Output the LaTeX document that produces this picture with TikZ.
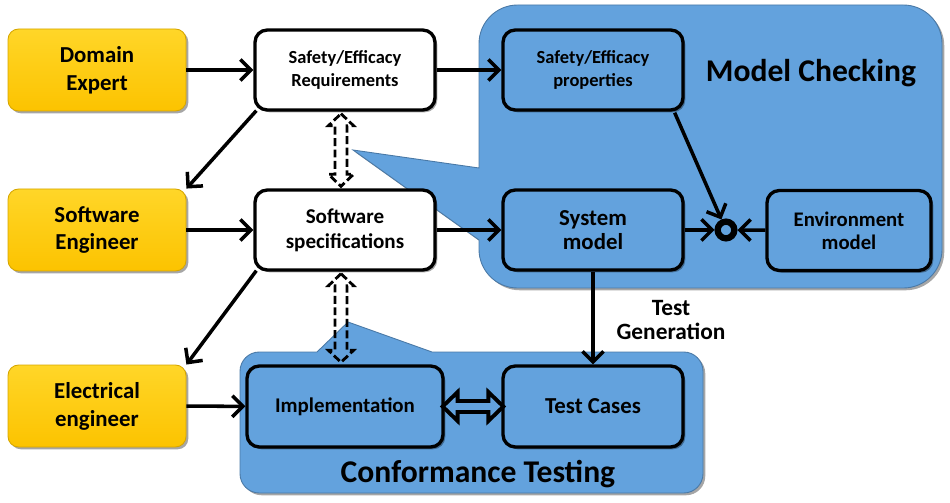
\documentclass[tikz,border=0pt]{standalone}
\usepackage{fontspec}
\setmainfont{Carlito}
\usetikzlibrary{arrows.meta,shadows,calc}
\definecolor{ytop}{RGB}{255,214,40}
\definecolor{ybot}{RGB}{252,195,0}
\definecolor{bcol}{RGB}{99,162,221}
\def\pxu{0.02cm}
\tikzset{
  shad/.style={drop shadow={shadow xshift=1.3pt, shadow yshift=-1.3pt, opacity=0.35, fill=black}},
  personbox/.style={rounded corners=6pt, top color=ytop, bottom color=ybot, draw=ybot!85!black, line width=0.5pt,
    minimum width=178*\pxu, minimum height=82*\pxu, align=center, shad,
    font=\bfseries\fontsize{13}{15.9}\selectfont},
  whitebox/.style={rounded corners=7pt, fill=white, draw=black, line width=1.9pt,
    minimum width=180*\pxu, minimum height=80*\pxu, align=center, shad},
  bluebox/.style={whitebox, fill=bcol},
  container/.style={fill=bcol, draw=bcol!75!black, line width=0.5pt, shad},
  arr/.style={line width=2pt, -{Straight Barb[length=6pt,width=12pt]}},
  dashdbl/.style={draw=black, dash pattern=on 4.5pt off 2pt, line width=1.6pt},
  soliddbl/.style={draw=black, line width=2.2pt, line join=miter},
  biglabel/.style={font=\bfseries\fontsize{18}{20}\selectfont, anchor=base},
}
\begin{document}
\begin{tikzpicture}[x=\pxu, y=-\pxu]
\useasboundingbox (0,0) rectangle (950,503);

% containers
\path[container] (353,150) -- (479,240) [rounded corners=22pt] -- (479,288) -- (942,288) -- (942,5) -- (479,5) [sharp corners] -- (479,168) -- cycle;
\path[container] (348,322) -- (432,352) [rounded corners=11pt] -- (703,352) -- (703,493) -- (240,493) -- (240,352) [sharp corners] -- (317,352) -- cycle;

% people
\node[personbox] (dom) at (97,70) {Domain\\Expert};
\node[personbox] (sweng) at (97,230) {Software\\Engineer};
\node[personbox] (eleng) at (97,406) {Electrical\\engineer};

% documents
\node[whitebox, font=\bfseries\fontsize{10.5}{13}\selectfont] (req) at (345,70) {Safety/Efficacy\\Requirements};
\node[whitebox, font=\bfseries\fontsize{12}{14.2}\selectfont] (spec) at (345,230) {Software\\specifications};

% model checking
\node[bluebox, font=\bfseries\fontsize{10.5}{13}\selectfont] (prop) at (593,70) {Safety/Efficacy\\properties};
\node[bluebox, font=\bfseries\fontsize{13}{13.2}\selectfont] (sys) at (593,230) {System\\model};
\node[bluebox, minimum width=164*\pxu, font=\bfseries\fontsize{11.8}{13}\selectfont] (env) at (849,230.5) {Environment\\model};
\node[circle, draw=black, line width=3.6pt, minimum size=9.5pt, inner sep=0pt] (cir) at (726,230) {};
\node[biglabel] (mc) at (811,82) {Model Checking};

% conformance testing
\node[bluebox, minimum width=196*\pxu, minimum height=81*\pxu, font=\bfseries\fontsize{11.9}{13}\selectfont] (impl) at (345,406.5) {Implementation};
\node[bluebox, minimum height=81*\pxu, font=\bfseries\fontsize{13}{13}\selectfont] (tc) at (593,406.5) {Test Cases};
\node[biglabel] (ct) at (478,482) {Conformance Testing};
\node[font=\bfseries\fontsize{13.3}{13.6}\selectfont, align=center] (tg) at (671,320) {Test\\Generation};

% arrows
\draw[arr] (dom) -- (req);
\draw[arr] (sweng) -- (spec);
\draw[arr] (eleng) -- (impl);
\draw[arr] (req) -- (prop);
\draw[arr] (spec) -- (sys);
\draw[arr] ($(req.south west)+(3,-1)$) -- (sweng.north east);
\draw[arr] ($(spec.south west)+(3,-1)$) -- (eleng.north east);
\draw[arr] ($(prop.south east)+(-10,1)$) -- (cir);
\draw[arr] (sys) -- (cir);
\draw[arr] (env) -- (cir);
\draw[arr] (sys) -- (tc);

% hollow double arrows
\draw[dashdbl] ($(req.south)+(-4,2)$) -- ++(12.5,12) -- ++(-6.5,0) -- ($(spec.north)+(2,-14)$) -- ++(6.5,0)
  -- ($(spec.north)+(-4,-2)$) -- ++(-12.5,-12) -- ++(6.5,0) -- ($(req.south)+(-10,14)$) -- ++(-6.5,0) -- cycle;
\draw[dashdbl] ($(spec.south)+(-4,2)$) -- ++(12.5,12) -- ++(-6.5,0) -- ($(impl.north)+(2,-14)$) -- ++(6.5,0)
  -- ($(impl.north)+(-4,-2)$) -- ++(-12.5,-12) -- ++(6.5,0) -- ($(spec.south)+(-10,14)$) -- ++(-6.5,0) -- cycle;
\draw[soliddbl] ($(impl.east)+(-2,0)$) -- ++(15,-14.5) -- ++(0,9) -- ($(tc.west)+(-13,-5.5)$) -- ++(0,-9)
  -- ($(tc.west)+(2,0)$) -- ++(-15,14.5) -- ++(0,-9) -- ($(impl.east)+(13,5.5)$) -- ++(0,9) -- cycle;
\end{tikzpicture}
\end{document}
